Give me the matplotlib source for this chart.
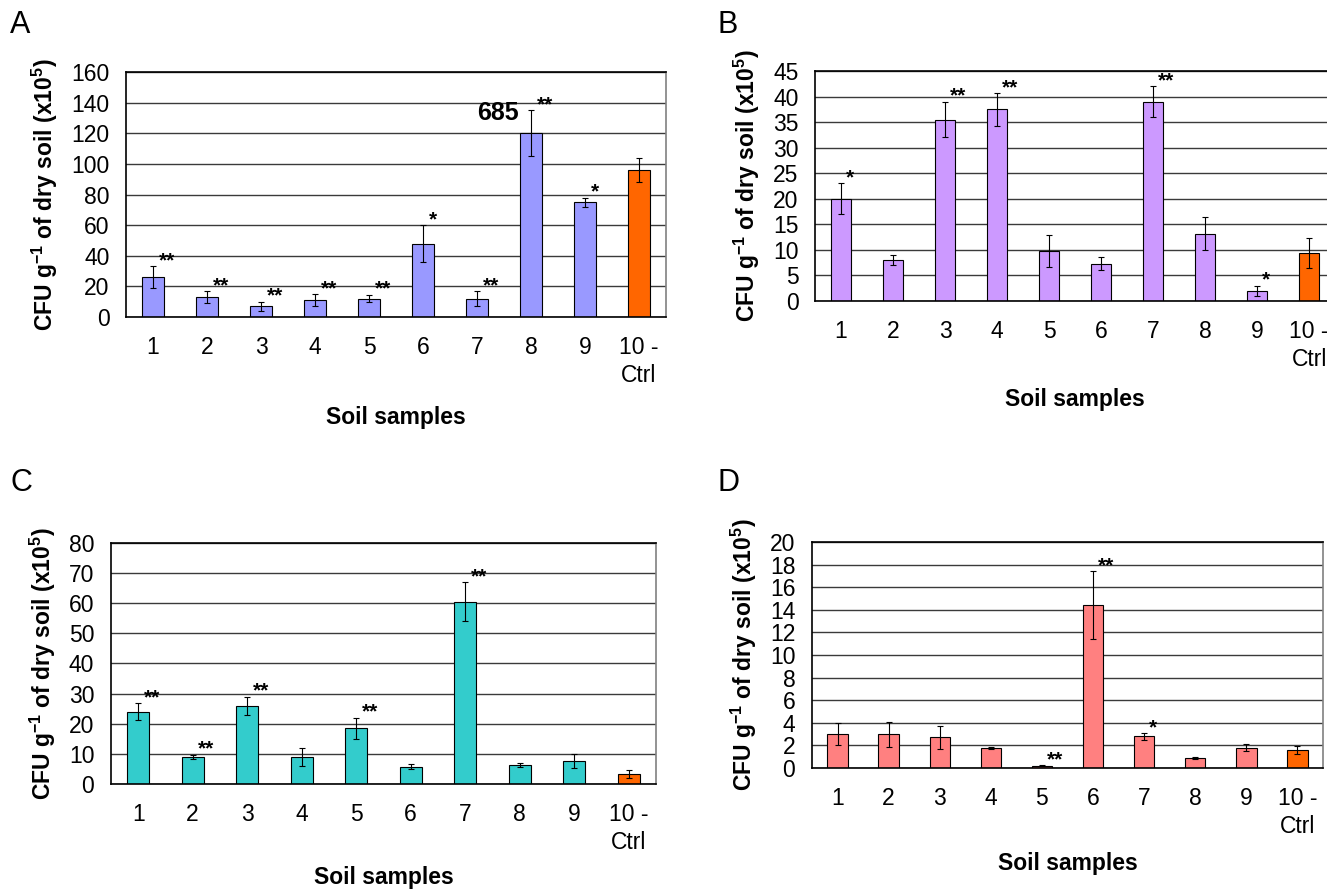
import matplotlib
matplotlib.use("Agg")
import matplotlib.pyplot as plt
import numpy as np

plt.rcParams['font.family'] = ['Liberation Sans', 'DejaVu Sans']
plt.rcParams['mathtext.fontset'] = 'custom'
plt.rcParams['mathtext.rm'] = 'Liberation Sans'
plt.rcParams['mathtext.bf'] = 'Liberation Sans:bold'

# data
samples = ["1", "2", "3", "4", "5", "6", "7", "8", "9", "10 -\nCtrl"]

a_means = [26, 13, 7, 11, 12, 48, 12, 120, 75, 96]
a_errs = [7, 4, 3, 4, 2.5, 12, 5, 15, 3, 8]
a_stars = ["**", "**", "**", "**", "**", "*", "**", "**", "*", ""]

b_means = [20, 8, 35.5, 37.5, 9.8, 7.3, 39, 13.2, 2, 9.4]
b_errs = [3, 1, 3.5, 3.2, 3.2, 1.3, 3, 3.2, 1, 3]
b_stars = ["*", "", "**", "**", "", "", "**", "", "*", ""]

c_means = [24, 9, 26, 9, 18.5, 5.8, 60.5, 6.2, 7.7, 3.2]
c_errs = [2.8, 0.7, 3, 3, 3.5, 0.8, 6.5, 0.7, 2.3, 1.3]
c_stars = ["**", "**", "**", "", "**", "", "**", "", "", ""]

d_means = [3.0, 3.0, 2.7, 1.8, 0.2, 14.4, 2.8, 0.9, 1.8, 1.6]
d_errs = [1.0, 1.1, 1.0, 0.1, 0.05, 3.0, 0.3, 0.1, 0.3, 0.35]
d_stars = ["", "", "", "", "**", "**", "*", "", "", ""]

ylabel = r"CFU g$^{\mathbf{-1}}$ of dry soil (x10$^{\mathbf{5}}$)"


def draw_panel(ax, means, errs, stars, color, ymax, ystep):
    x = np.arange(len(means))
    colors = [color] * (len(means) - 1) + ["#FF6600"]
    ax.set_axisbelow(True)
    ax.yaxis.grid(True, color="#3a3a3a", linewidth=1.0)
    ax.bar(x, means, width=0.4, color=colors, edgecolor="black", linewidth=0.8,
           yerr=errs, error_kw=dict(ecolor="black", elinewidth=0.8, capsize=2.5, capthick=0.8))
    for i, s in enumerate(stars):
        if s:
            ax.annotate(s, (x[i] + 0.1, means[i] + errs[i]), xytext=(0, 4),
                        textcoords="offset points", ha="left", va="center",
                        fontsize=15, fontweight="bold")
    ax.set_xlim(-0.5, len(means) - 0.5)
    ax.set_ylim(0, ymax)
    ax.set_yticks(np.arange(0, ymax + ystep / 2, ystep))
    ax.set_xticks(x)
    ax.set_xticklabels(samples, va="top", ha="center", linespacing=1.25)
    ax.tick_params(axis="both", length=0, labelsize=16.5)
    ax.tick_params(axis="x", pad=14)
    ax.tick_params(axis="y", pad=12)
    for side in ["top", "bottom", "left"]:
        ax.spines[side].set_color("black")
        ax.spines[side].set_linewidth(1.2)
    ax.spines["right"].set_color("#808080")
    ax.spines["right"].set_linewidth(1.2)
    ax.set_ylabel(ylabel, fontsize=16.5, fontweight="bold", labelpad=8)


fig = plt.figure(figsize=(13.27, 8.9), dpi=100)

ax_a = fig.add_axes([0.0950, 0.6438, 0.4069, 0.2753])
draw_panel(ax_a, a_means, a_errs, a_stars, "#9999FF", 160, 20)
ax_a.text(7 - 0.22, a_means[7] + a_errs[7] - 2, "685", ha="right", va="center",
          fontsize=18, fontweight="bold")
ax_a.set_xlabel("Soil samples", fontsize=16.5, fontweight="bold", labelpad=14)

ax_b = fig.add_axes([0.6142, 0.6618, 0.3919, 0.2584])
draw_panel(ax_b, b_means, b_errs, b_stars, "#CC99FF", 45, 5)
ax_b.set_xlabel("Soil samples", fontsize=16.5, fontweight="bold", labelpad=12)

ax_c = fig.add_axes([0.0836, 0.1191, 0.4107, 0.2708])
draw_panel(ax_c, c_means, c_errs, c_stars, "#33CCCC", 80, 10)
ax_c.set_xlabel("Soil samples", fontsize=16.5, fontweight="bold", labelpad=9)

ax_d = fig.add_axes([0.6119, 0.1371, 0.3851, 0.2539])
draw_panel(ax_d, d_means, d_errs, d_stars, "#FF8080", 20, 2)
ax_d.set_xlabel("Soil samples", fontsize=16.5, fontweight="bold", labelpad=10)

for letter, px, py in [("A", 10, 25), ("B", 718, 25), ("C", 10, 483), ("D", 718, 483)]:
    fig.text(px / 1327, 1 - py / 890, letter, fontsize=22, ha="left", va="center")

fig.savefig("out.png", dpi=100)
